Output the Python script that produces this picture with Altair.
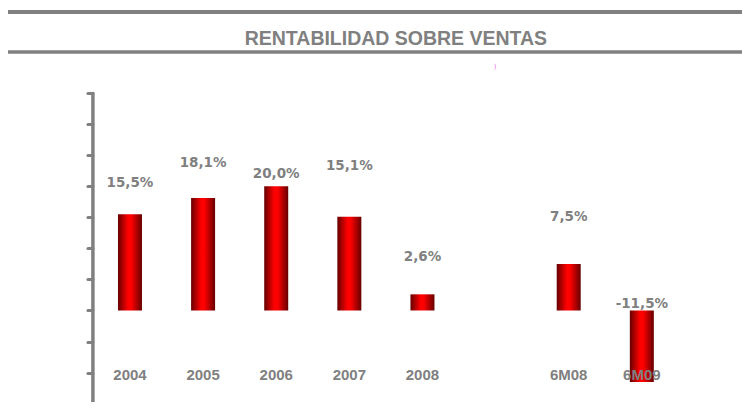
import altair as alt
import pandas as pd

categories = ["2004", "2005", "2006", "2007", "2008", "", "6M08", "6M09"]
values = [15.5, 18.1, 20.0, 15.1, 2.6, None, 7.5, -11.5]
label_pos = [20.5, 23.7, 21.9, 23.2, 8.6, None, 15.05, 1.05]
cat_label_pos = -10.46
y_ticks = [-15, -10, -5, 0, 5, 10, 15, 20, 25, 30, 35]
title_text = "RENTABILIDAD SOBRE VENTAS"

GRAY = "#808080"

df = pd.DataFrame({"cat": categories, "value": values, "pos": label_pos})
bars_df = df.dropna().reset_index(drop=True)

xscale = alt.Scale(domain=categories, paddingInner=0, paddingOuter=0)
x = alt.X("cat:N", sort=categories, scale=xscale, axis=None)

yscale = alt.Scale(domain=[-15, 35], nice=False)
yaxis = alt.Axis(values=y_ticks, labels=False, grid=False, title=None,
                 domainColor=GRAY, domainWidth=3.5, domainCap="round",
                 tickColor=GRAY, tickWidth=3, tickSize=5, tickCap="round",
                 offset=1)

grad = alt.Gradient(
    gradient="linear", x1=0, x2=1, y1=0, y2=0,
    stops=[
        alt.GradientStop(color="#660000", offset=0),
        alt.GradientStop(color="#ff0000", offset=0.42),
        alt.GradientStop(color="#ff0000", offset=0.55),
        alt.GradientStop(color="#660000", offset=1),
    ],
)

bars = alt.Chart(bars_df).mark_bar(size=24, color=grad).encode(
    x=x,
    y=alt.Y("value:Q", scale=yscale, axis=yaxis),
    y2=alt.datum(0),
)

value_labels = alt.Chart(bars_df).transform_calculate(
    lbl="replace(replace(format(datum.value, '.1f'), '.', ','), '\u2212', '-') + '%'"
).mark_text(font="DejaVu Sans", fontWeight="bold", fontSize=13.5,
            color=GRAY, baseline="middle").encode(
    x=x,
    y=alt.Y("pos:Q", scale=yscale, axis=yaxis),
    text="lbl:N",
)

cat_labels = alt.Chart(df).mark_text(font="Liberation Sans", fontWeight="bold",
                                     fontSize=15, color=GRAY,
                                     baseline="middle").encode(
    x=x,
    y=alt.YDatum(cat_label_pos, scale=yscale, axis=yaxis),
    text="cat:N",
)

one = pd.DataFrame({"k": [0]})
top_rule = alt.Chart(one).mark_rule(color=GRAY, strokeWidth=4).encode(
    x=alt.value(-85.4), x2=alt.value(648.6), y=alt.value(-81))
bottom_rule = alt.Chart(one).mark_rule(color=GRAY, strokeWidth=3.5).encode(
    x=alt.value(-85.4), x2=alt.value(648.6), y=alt.value(-41))
mark_glyph = alt.Chart(one).mark_text(text=")", fontSize=7, color="#e070e0",
                                      font="DejaVu Sans").encode(
    x=alt.value(401.6), y=alt.value(-26))

chart = alt.layer(top_rule, bottom_rule, mark_glyph, bars, value_labels, cat_labels).properties(
    width=585,
    height=310.7,
    title=alt.TitleParams(text=title_text, font="Liberation Sans", fontSize=19.5,
                          fontWeight="bold", color=GRAY, anchor="middle",
                          frame="group", baseline="bottom", offset=0,
                          dx=10, dy=59),
    autosize=alt.AutoSizeParams(type="none"),
    padding={"left": 85.4, "top": 85, "right": 63.6, "bottom": -2},
).configure_view(stroke=None)

chart.save("out.html", embed_options={"renderer": "svg", "actions": False})
